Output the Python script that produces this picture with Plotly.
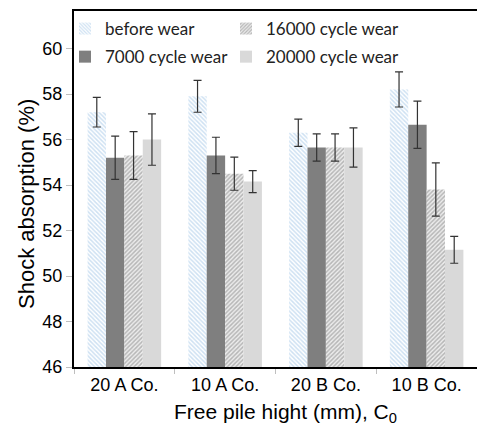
import plotly.graph_objects as go

categories = ["20 A Co.", "10 A Co.", "20 B Co.", "10 B Co."]
series_names = ["before wear", "7000 cycle wear", "16000 cycle wear", "20000 cycle wear"]
before_wear = [57.2, 57.9, 56.3, 58.2]
wear_7000 = [55.2, 55.3, 55.65, 56.65]
wear_16000 = [55.3, 54.5, 55.65, 53.8]
wear_20000 = [56.0, 54.15, 55.65, 51.15]
err_before = [0.65, 0.7, 0.6, 0.77]
err_7000 = [0.95, 0.8, 0.6, 1.04]
err_16000 = [1.05, 0.73, 0.6, 1.17]
err_20000 = [1.13, 0.48, 0.86, 0.59]
y_ticks = [46, 48, 50, 52, 54, 56, 58, 60]

values = [before_wear, wear_7000, wear_16000, wear_20000]
errors = [err_before, err_7000, err_16000, err_20000]
styles = [
    dict(color="white", pattern=dict(shape="\\", fgcolor="#9dc3e6", bgcolor="white", size=3, solidity=0.5)),
    dict(color="#7f7f7f"),
    dict(color="white", pattern=dict(shape="/", fgcolor="#808080", bgcolor="#ededed", size=3, solidity=0.5)),
    dict(color="#d9d9d9"),
]
legend_ids = ["legend", "legend", "legend2", "legend2"]

W, H = 477, 428
L, R, T, B = 74, 0, 11, 61
FONT = "Liberation Sans"
PW = W - L - R
PH = H - T - B

fig = go.Figure()
for i, (name, v, e, st, lg) in enumerate(zip(series_names, values, errors, styles, legend_ids)):
    fig.add_trace(go.Bar(
        x=categories, y=v, name=name, legend=lg, legendgroup=f"g{i}",
        marker=dict(line=dict(width=0), **st),
        error_y=dict(type="data", array=e, visible=True, color="#333333", thickness=1.2, width=4),
    ))

legend_common = dict(
    orientation="v", y=1.0, xanchor="left", yanchor="top",
    font=dict(family="Lato", size=17, color="#222222"),
    bgcolor="rgba(0,0,0,0)", itemwidth=30, traceorder="grouped", tracegroupgap=3,
)

fig.update_layout(
    width=W, height=H,
    margin=dict(l=L, r=R, t=T, b=B, autoexpand=False),
    paper_bgcolor="white", plot_bgcolor="white",
    barmode="group", bargap=0.27, bargroupgap=0,
    font=dict(family=FONT, color="#000000"),
    showlegend=True,
    legend=dict(x=(65 - L) / PW, **legend_common),
    legend2=dict(x=(226 - L) / PW, **legend_common),
    xaxis=dict(
        showline=True, linecolor="black", linewidth=2, mirror=True,
        ticks="outside", tickson="boundaries", ticklen=5, tickcolor="#bfbfbf",
        tickfont=dict(family=FONT, size=18), showgrid=False, automargin=False,
    ),
    yaxis=dict(
        range=[46, 61.65], tickvals=y_ticks, showgrid=False, zeroline=False,
        showline=True, linecolor="black", linewidth=2,
        ticks="outside", ticklen=6, tickcolor="#bfbfbf",
        tickfont=dict(family=FONT, size=18), automargin=False,
    ),
    annotations=[
        dict(text="Shock absorption (%)", textangle=-90, xref="paper", yref="paper",
             x=-(L - 26) / PW, y=(H - B - 204) / PH, xanchor="center", yanchor="middle",
             showarrow=False, font=dict(family=FONT, size=22)),
        dict(text="Free pile hight (mm), C<sub>0</sub>", xref="paper", yref="paper",
             x=(285 - L) / PW, y=-(413 - (H - B)) / PH,
             xanchor="center", yanchor="middle",
             showarrow=False, font=dict(family=FONT, size=21)),
    ],
)

fig.write_html("out.html", config={"displayModeBar": False},
               post_script="document.body.style.margin='0px';")
